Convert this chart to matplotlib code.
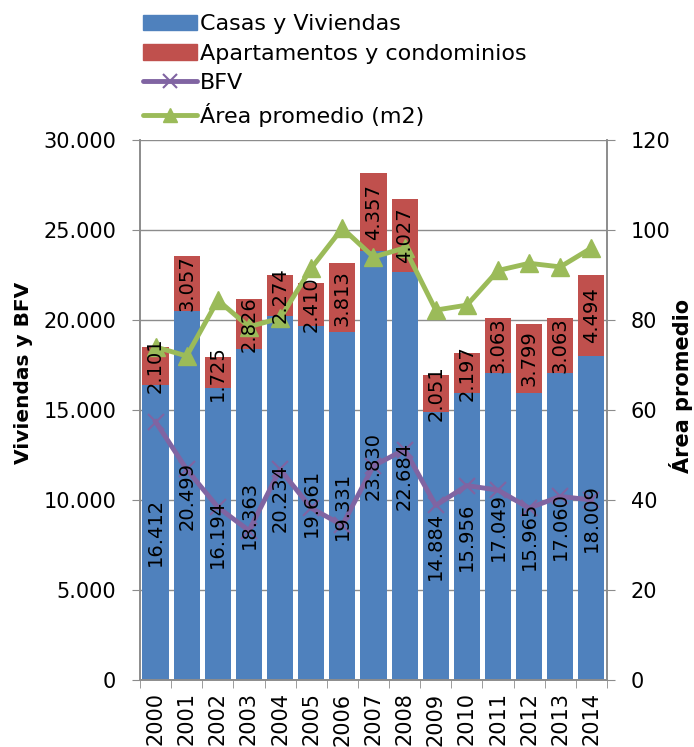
import matplotlib.pyplot as plt
import matplotlib.patches as mpatches
import matplotlib.lines as mlines
import numpy as np

plt.rcParams['font.family'] = ['DejaVu Sans']

years = ['2000', '2001', '2002', '2003', '2004', '2005', '2006', '2007',
         '2008', '2009', '2010', '2011', '2012', '2013', '2014']
casas = [16412, 20499, 16194, 18363, 20234, 19661, 19331, 23830,
         22684, 14884, 15956, 17049, 15965, 17060, 18009]
aptos = [2101, 3057, 1725, 2826, 2274, 2410, 3813, 4357,
         4027, 2051, 2197, 3063, 3799, 3063, 4494]
bfv = [14350, 11700, 9600, 8300, 11700, 9550, 8600, 11900,
       12800, 9700, 10800, 10550, 9550, 10200, 10000]
area = [74, 72, 84.4, 78.5, 80.4, 91.5, 100.4, 94,
        96, 82.2, 83.3, 91, 92.6, 91.8, 96]

blue = '#4F81BD'
red = '#C0504D'
purple = '#8064A2'
green = '#9BBB59'
grid_c = '#8C8C8C'


def fmt(v):
    return f'{v:,}'.replace(',', '.')


fig = plt.figure(figsize=(6.94, 7.47), dpi=100)
ax = fig.add_axes([0.2017, 0.0897, 0.6729, 0.7229])
ax2 = ax.twinx()

x = np.arange(len(years))
ax.bar(x, casas, width=0.84, color=blue, zorder=2)
ax.bar(x, aptos, width=0.84, bottom=casas, color=red, zorder=2)
ax.plot(x, bfv, color=purple, lw=3.5, marker='x', ms=11, mew=1.5, zorder=3)
ax2.plot(x, area, color=green, lw=3.5, marker='^', ms=13, zorder=3)

# data labels on top of everything
for i in range(len(years)):
    ax2.text(x[i], casas[i] / 2, fmt(casas[i]), rotation=90, ha='center',
             va='center', fontsize=14, transform=ax.transData, zorder=5)
    ax2.text(x[i], casas[i] + aptos[i] / 2, fmt(aptos[i]), rotation=90,
             ha='center', va='center', fontsize=14, transform=ax.transData,
             zorder=5)

ax.set_xlim(-0.5, len(years) - 0.5)
ax.set_ylim(0, 30000)
ax2.set_ylim(0, 120)
ax.set_yticks(np.arange(0, 30001, 5000))
ax.set_yticklabels([fmt(v) for v in range(0, 30001, 5000)], fontsize=15)
ax2.set_yticks(np.arange(0, 121, 20))
ax2.set_yticklabels([str(v) for v in range(0, 121, 20)], fontsize=15)
ax.set_xticks(x)
ax.set_xticklabels(years, rotation=90, fontsize=15)
ax.set_xticks(np.arange(-0.5, len(years), 1), minor=True)
ax.tick_params(axis='x', which='major', length=0, pad=9)
ax.tick_params(axis='x', which='minor', length=6, color=grid_c)
ax.tick_params(axis='y', length=6, color=grid_c, direction='out', pad=11)
ax2.tick_params(axis='y', length=6, color=grid_c, direction='out', pad=11)
ax.grid(axis='y', color=grid_c, lw=1, zorder=0)
ax.set_axisbelow(True)
for a in (ax, ax2):
    a.spines['top'].set_visible(False)
    for s in ('left', 'right', 'bottom'):
        a.spines[s].set_color(grid_c)
        a.spines[s].set_linewidth(1.2)

ax.set_ylabel('Viviendas y BFV', fontsize=14.5, fontweight='bold')
ax2.set_ylabel('Área promedio', fontsize=15, fontweight='bold')
ax.yaxis.set_label_coords(-0.229, 0.569)
ax2.yaxis.set_label_coords(1.133, 0.544)

handles = [
    mpatches.Patch(color=blue, label='Casas y Viviendas'),
    mpatches.Patch(color=red, label='Apartamentos y condominios'),
    mlines.Line2D([], [], color=purple, lw=3.5, marker='x', ms=10, mew=1.5,
                  solid_capstyle='round', label='BFV'),
    mlines.Line2D([], [], color=green, lw=3.5, marker='^', ms=10,
                  solid_capstyle='round', label='Área promedio (m2)'),
]
fig.legend(handles=handles, loc='upper left', bbox_to_anchor=(0.193, 0.993),
           frameon=False, fontsize=16, handlelength=2.45, handletextpad=0.12,
           labelspacing=0.43, borderaxespad=0)

fig.savefig('out.png', dpi=100)
